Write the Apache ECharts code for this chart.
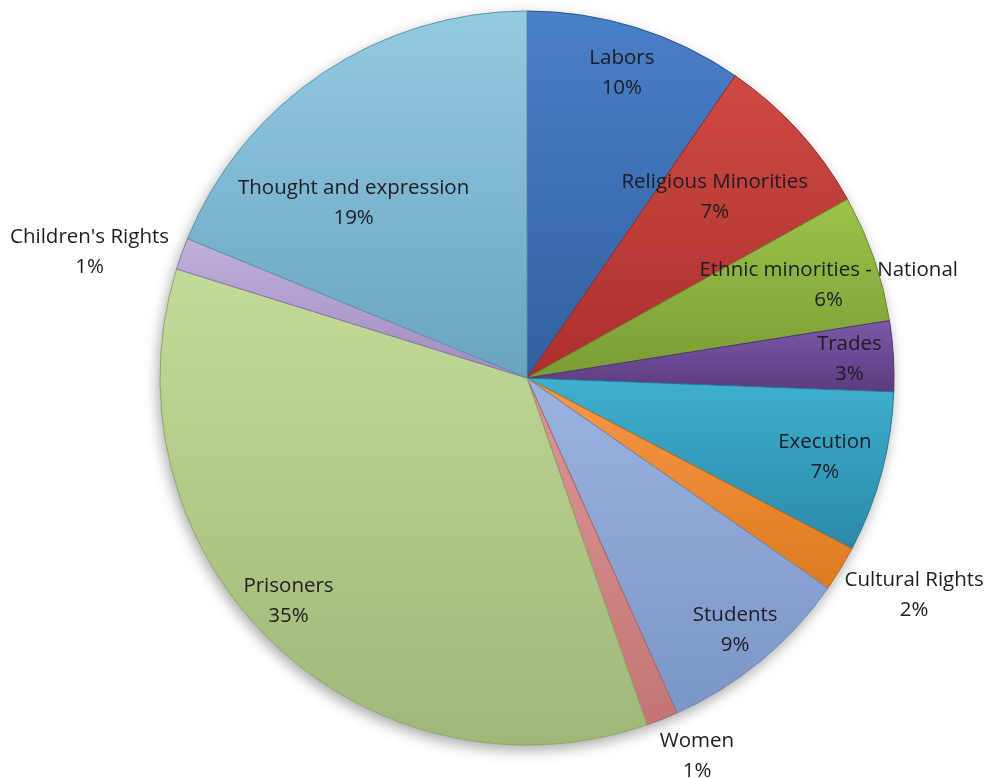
<!DOCTYPE html>
<html>
<head>
<meta charset="utf-8">
<script src="https://cdn.jsdelivr.net/npm/echarts@6/dist/echarts.min.js"></script>
<style>
html,body{margin:0;padding:0;background:#fff;}
#chart{width:989px;height:778px;}
</style>
</head>
<body>
<div id="chart"></div>
<script>
// ---- data ----
var categories = ["Labors", "Religious Minorities", "Ethnic minorities - National", "Trades", "Execution",
  "Cultural Rights", "Students", "Women", "Prisoners", "Children's Rights", "Thought and expression"];
var values = [9.6, 7.3, 5.6, 3.1, 7.1, 2.0, 8.6, 1.4, 35.1, 1.4, 18.8];

// ---- style ----
var topColors = ["#4a80c8", "#d04945", "#9cc34b", "#7c59a7", "#3fb0cf", "#f89848", "#9bb3e0", "#dc9896", "#c4db98", "#c0b0da", "#92cbe2"];
var botColors = ["#30609f", "#aa302c", "#7a9c34", "#5c3b81", "#2b89a7", "#dd7a20", "#7b95c8", "#c47573", "#9fb777", "#a08cc0", "#6aa4bd"];
var edgeColors = ["#2b5590", "#8f2a27", "#6b8a2d", "#4f3370", "#247690", "#c06a1a", "#6c84b3", "#a86462", "#8ea56a", "#8a78a8", "#5e94ab"];
var labelRadius = [0.87, 0.71, 0.86, 0.88, 0.84, 1.21, 0.89, 1.13, 0.89, 1.24, 0.67];
var labelShift = [0, -1.6, 2, 0, 0, -2, 0, -2.6, 2.8, -3.8, -11];

var CX = 527, CY = 378, R = 367;
var total = values.reduce(function (a, b) { return a + b; }, 0);
var mids = [];
(function () {
  var acc = 0;
  for (var i = 0; i < values.length; i++) {
    mids.push((acc + values[i] / 2) / total * 360);
    acc += values[i];
  }
})();

var data = categories.map(function (n, i) {
  return {
    name: n,
    value: values[i],
    itemStyle: {
      color: { type: 'linear', x: 0, y: 0, x2: 0, y2: 1,
        colorStops: [{ offset: 0, color: topColors[i] }, { offset: 1, color: botColors[i] }] },
      borderColor: edgeColors[i],
      borderWidth: 1
    }
  };
});

var chart = echarts.init(document.getElementById('chart'));
chart.setOption({
  backgroundColor: '#ffffff',
  animation: false,
  series: [
    {
      type: 'pie',
      silent: true,
      center: [CX, CY],
      radius: R,
      z: 1,
      data: [{ value: 1, itemStyle: { color: '#ffffff', shadowBlur: 14, shadowOffsetX: -2, shadowOffsetY: 5, shadowColor: 'rgba(0,0,0,0.35)' } }],
      label: { show: false },
      labelLine: { show: false }
    },
    {
      type: 'pie',
      center: [CX, CY],
      radius: R,
      startAngle: 90,
      clockwise: true,
      z: 2,
      data: data,
      label: {
        show: true,
        position: 'inside',
        formatter: function (p) { return p.name + '\n' + Math.round(p.value / total * 100) + '%'; },
        fontFamily: 'Open Sans',
        fontSize: 20.5,
        lineHeight: 30,
        color: '#1c1c24',
        align: 'center'
      },
      labelLine: { show: false },
      labelLayout: function (params) {
        var i = params.dataIndex;
        var a = (mids[i] + labelShift[i]) * Math.PI / 180;
        var r = R * labelRadius[i];
        return {
          x: CX + r * Math.sin(a),
          y: CY - r * Math.cos(a),
          align: 'center',
          verticalAlign: 'middle'
        };
      }
    }
  ]
});
</script>
</body>
</html>
